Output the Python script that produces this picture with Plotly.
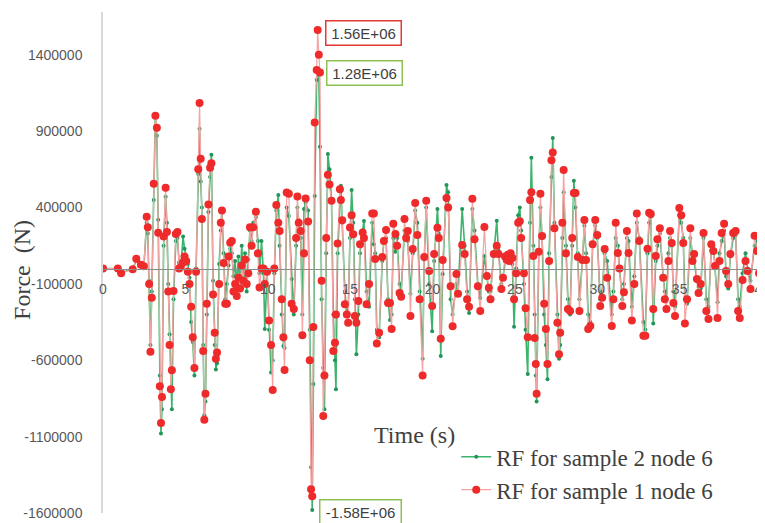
import plotly.graph_objects as go

# Time (s)
time_s = [0.00, 0.90, 1.10, 1.80, 2.02, 2.30, 2.48, 2.65, 2.72, 2.80, 2.88, 2.96, 3.08, 3.18, 3.27, 3.35,
          3.45, 3.52, 3.58, 3.68, 3.80, 3.88, 3.96, 4.04, 4.12, 4.18, 4.28, 4.42, 4.52, 4.62, 4.72, 4.86,
          4.95, 5.05, 5.15, 5.25, 5.35, 5.45, 5.55, 5.65, 5.78, 5.86, 5.93, 6.00, 6.08, 6.15, 6.22, 6.30,
          6.40, 6.50, 6.58, 6.68, 6.78, 6.85, 6.92, 7.05, 7.15, 7.22, 7.32, 7.42, 7.52, 7.62, 7.72, 7.82,
          7.92, 8.02, 8.12, 8.22, 8.32, 8.42, 8.52, 8.62, 8.72, 8.82, 8.92, 9.02, 9.12, 9.28, 9.40, 9.50,
          9.62, 9.74, 9.82, 9.96, 10.08, 10.20, 10.30, 10.40, 10.52, 10.64, 10.72, 10.85, 10.95, 11.02, 11.15, 11.28,
          11.45, 11.58, 11.72, 11.80, 11.88, 12.00, 12.10, 12.20, 12.30, 12.45, 12.55, 12.63, 12.70, 12.77, 12.85, 12.97,
          13.03, 13.10, 13.17, 13.27, 13.37, 13.44, 13.55, 13.65, 13.75, 13.87, 13.98, 14.08, 14.14, 14.24, 14.38, 14.44,
          14.52, 14.68, 14.80, 14.88, 14.99, 15.09, 15.19, 15.29, 15.38, 15.50, 15.60, 15.76, 15.84, 16.00, 16.15, 16.34,
          16.44, 16.52, 16.62, 16.76, 16.95, 17.05, 17.18, 17.30, 17.42, 17.52, 17.62, 17.75, 17.85, 18.00, 18.10, 18.30,
          18.40, 18.50, 18.66, 18.80, 18.95, 19.08, 19.22, 19.40, 19.50, 19.62, 19.80, 19.98, 20.10, 20.30, 20.38, 20.50,
          20.62, 20.85, 20.95, 21.10, 21.22, 21.45, 21.55, 21.80, 21.95, 22.10, 22.22, 22.42, 22.55, 22.75, 22.90, 23.15,
          23.30, 23.42, 23.52, 23.72, 23.90, 24.00, 24.18, 24.28, 24.40, 24.50, 24.58, 24.66, 24.74, 24.85, 24.95, 25.08,
          25.20, 25.30, 25.38, 25.55, 25.65, 25.78, 25.92, 26.00, 26.12, 26.20, 26.27, 26.32, 26.45, 26.55, 26.65, 26.78,
          26.88, 26.98, 27.08, 27.22, 27.30, 27.40, 27.58, 27.68, 27.75, 27.88, 27.96, 28.10, 28.22, 28.35, 28.48, 28.58,
          28.68, 28.82, 28.92, 29.10, 29.22, 29.32, 29.45, 29.58, 29.72, 29.88, 30.00, 30.18, 30.30, 30.45, 30.60, 30.88,
          30.98, 31.12, 31.25, 31.35, 31.52, 31.62, 31.80, 31.90, 32.10, 32.25, 32.40, 32.55, 32.80, 32.92, 33.05, 33.15,
          33.25, 33.40, 33.55, 33.65, 33.80, 34.00, 34.10, 34.20, 34.32, 34.42, 34.52, 34.62, 34.72, 34.98, 35.10, 35.22,
          35.32, 35.45, 35.65, 35.78, 35.88, 36.05, 36.15, 36.28, 36.45, 36.62, 36.75, 36.92, 37.05, 37.15, 37.30, 37.42,
          37.55, 37.70, 37.82, 37.95, 38.08, 38.25, 38.40, 38.55, 38.65, 38.82, 39.00, 39.12, 39.30, 39.55, 39.70, 39.82,
          39.95]

# RF for sample 1 node 6 (N) - red
rf_sample1 = [0, 0, -30000, -5000, 65000, 25000, 15000, 340000, 270000, -100000, -545000, -190000, 555000, 1000000, 923000, 234000,
              -770000, -1010000, -840000, 210000, 529000, 240000, -150000, -500000, -790000, -665000, -146000, 227000, 240000, 0, 10000, 40000,
              80000, 50000, -20000, -100000, -250000, -450000, -650000, -20000, 650000, 1085000, 720000, 325000, -540000, -990000, -820000, -230000,
              420000, 660000, 690000, -170000, -420000, -590000, -550000, -100000, 300000, 380000, 37000, -230000, -230000, 80000, 170000, 180000,
              -150000, -100000, -180000, -60000, -130000, 20000, -80000, 60000, -100000, -30000, 270000, 150000, 270000, 373000, 100000, -124000,
              0, 0, -100000, -20000, -340000, -500000, -795000, 0, 417000, 300000, 247000, -200000, -450000, -664000, 498000, 490000,
              -230000, -264000, 200000, 472000, 300000, 247000, -436000, 100000, 459000, 308000, -600000, -1445000, -1490000, -382000, 957000, 1300000,
              1562000, 1400000, 1284000, -80000, -965000, -700000, 200000, 614000, 550000, 444000, -540000, -485000, -300000, 164000, 520000, 450000,
              317000, -233000, -300000, -354000, 269000, 350000, 225000, -310000, -354000, -212000, 160000, 236000, 200000, -233000, -100000, 360000,
              360000, 63000, -490000, -420000, 76000, 180000, 252000, -225000, -225000, -395000, 293000, 227000, 150000, -160000, -185000, 325000,
              200000, 247000, -310000, 129000, 430000, 220000, -200000, -700000, 76000, 444000, -15000, -245000, 96000, 267000, 200000, -460000,
              57000, 463000, 400000, -115000, -377000, -35000, -165000, 155000, 96000, -200000, -250000, 457000, 193000, -115000, -278000, 273000,
              -48000, -126000, -200000, 96000, 150000, 96000, -133000, -60000, 80000, 60000, 90000, 50000, 100000, 70000, -200000, -30000,
              300000, 310000, 200000, -30000, -260000, -450000, 450000, 500000, 83000, -455000, -625000, -820000, 110000, 490000, 213000, -230000,
              -395000, -625000, 50000, 710000, 760000, 265000, -355000, -560000, -420000, 300000, 645000, 100000, -265000, -278000, 200000, 495000,
              495000, 76000, -278000, 57000, 318000, 57000, -395000, -375000, 160000, 318000, 220000, -245000, -190000, 129000, -60000, -375000,
              -200000, 300000, 103000, 0, -245000, -155000, 247000, 103000, -340000, -100000, 360000, 180000, -440000, -440000, 130000, 365000,
              357000, -265000, 83000, 193000, 265000, -60000, -200000, -265000, 50000, 247000, 168000, -225000, -310000, 397000, 350000, 168000,
              -360000, -200000, 265000, 50000, 96000, -68000, -160000, -100000, 233000, -278000, -330000, 160000, 115000, 17000, -323000, 50000,
              233000, 293000, -15000, -100000, 96000, 233000, 247000, -278000, -323000, -75000, 50000, -15000, -133000, 215000, 115000, -30000,
              -215000]

# RF for sample 2 node 6 (N) - green
rf_sample2 = [0, 0, -25000, -5000, 55000, 20000, 10000, 300000, 230000, -80000, -500000, -150000, 450000, 1010000, 870000, 320000,
              -700000, -1080000, -920000, 150000, 470000, 300000, -100000, -430000, -650000, -920000, -200000, 180000, 200000, 40000, 0, 210000,
              130000, 70000, 30000, -60000, -350000, -480000, -700000, 0, 620000, 915000, 570000, 400000, -500000, -960000, -870000, -300000,
              370000, 600000, 745000, -80000, -500000, -660000, -620000, 30000, 250000, 390000, 100000, -200000, -100000, 20000, 130000, 100000,
              -50000, 50000, -120000, 80000, -100000, 150000, -50000, 100000, -150000, 60000, 250000, 180000, 300000, 334000, 180000, -30000,
              180000, -30000, -395000, -30000, -400000, -680000, -600000, -30000, 380000, 482000, 150000, -300000, -506000, -520000, 400000, 345000,
              -68000, -300000, 150000, 400000, 317000, 200000, -300000, 390000, 430000, 380000, -400000, -1300000, -1580000, -755000, 476000, 1234000,
              1300000, 1280000, 797000, -200000, -650000, -920000, 100000, 750000, 650000, 450000, -300000, -600000, -790000, 100000, 450000, 542000,
              300000, -150000, -280000, -300000, 200000, 514000, 300000, -200000, -560000, -300000, 100000, 250000, 312000, -150000, -250000, 300000,
              160000, 100000, -400000, -450000, 50000, 187000, 200000, -200000, -336000, -300000, 200000, 110000, 200000, -100000, -150000, 250000,
              200000, 180000, -165000, 100000, 380000, 300000, -150000, -590000, 60000, 400000, -100000, -410000, 50000, 390000, 228000, -572000,
              -35000, 548000, 500000, -200000, -300000, -100000, -150000, 390000, 150000, -150000, -290000, 390000, 250000, -100000, -192000, 83000,
              -50000, -150000, -150000, 100000, 313000, 120000, -100000, -50000, 50000, 100000, 40000, 60000, 80000, 30000, -380000, 0,
              350000, 400000, 250000, -100000, -400000, -690000, 300000, 725000, 150000, -300000, -700000, -870000, 100000, 400000, 200000, -300000,
              -500000, -725000, 100000, 600000, 855000, 300000, -300000, -590000, -500000, 200000, 500000, 150000, -200000, -300000, 150000, 575000,
              400000, 100000, -200000, 50000, 280000, 100000, -300000, -350000, 150000, 280000, 200000, -200000, -150000, 100000, 50000, -300000,
              -150000, 200000, 150000, 0, -200000, -100000, 200000, 180000, -250000, -50000, 300000, 200000, -350000, -400000, 100000, 300000,
              340000, -360000, 50000, 150000, 230000, -50000, -150000, -200000, 100000, 200000, 150000, -150000, -250000, 350000, 300000, 200000,
              -200000, -230000, 200000, 100000, 50000, -80000, -120000, -130000, 200000, -200000, -250000, 120000, 150000, 0, -220000, 100000,
              180000, 250000, -50000, -130000, 80000, 200000, 220000, -200000, -250000, -30000, 100000, 0, -80000, 150000, 180000, -50000,
              -150000]

y_ticks = [-1600000, -1100000, -600000, -100000, 400000, 900000, 1400000]
y_tick_labels = ["-1600000", "-1100000", "-600000", "-100000", "400000", "900000", "1400000"]
x_ticks = [0, 5, 10, 15, 20, 25, 30, 35, 40]
y_min, y_max = -1600000, 1680000

fig = go.Figure()
fig.add_trace(go.Scatter(
    x=time_s, y=rf_sample2, mode="lines+markers", name="RF for sample 2 node 6",
    line=dict(color="#3DB46D", width=1.6),
    marker=dict(color="#23955A", size=4),
))
fig.add_trace(go.Scatter(
    x=time_s, y=rf_sample1, mode="lines+markers", name="RF for sample 1 node 6",
    line=dict(color="#F5A3A3", width=1.2),
    marker=dict(color="#EE2A2A", size=8),
))

tick_font = dict(family="Liberation Sans, Arial, sans-serif", size=14, color="#595959")
serif = "Liberation Serif, Times New Roman, serif"
box_font = dict(family="Liberation Sans, Arial", size=15, color="#404040")

fig.update_layout(
    width=765, height=523,
    margin=dict(l=95, r=11, t=4, b=18, autoexpand=False),
    paper_bgcolor="white", plot_bgcolor="white",
    showlegend=True,
    legend=dict(x=0.536, y=0.155, xanchor="left", yanchor="top",
                bgcolor="rgba(0,0,0,0)", font=dict(family=serif, size=23, color="#404040"),
                tracegroupgap=0, itemwidth=30),
    xaxis=dict(range=[0, 40], tickvals=x_ticks, showgrid=False, zeroline=False,
               showline=True, linecolor="#8C8C8C", linewidth=1, automargin=False,
               anchor="free", position=(0 - y_min) / (y_max - y_min),
               ticks="outside", ticklen=8, tickcolor="rgba(0,0,0,0)",
               tickfont=tick_font),
    yaxis=dict(range=[y_min, y_max], tickvals=y_ticks, ticktext=y_tick_labels, showgrid=False,
               zeroline=False, showline=True, linecolor="#D9D9D9", linewidth=1.5, automargin=False,
               ticks="outside", ticklen=16, tickcolor="rgba(0,0,0,0)",
               tickfont=tick_font),
    annotations=[
        dict(text="Force  (N)", xref="paper", yref="paper", x=-0.123, y=0.485,
             xanchor="center", yanchor="middle",
             textangle=-90, showarrow=False, font=dict(family=serif, size=24, color="#404040")),
        dict(text="Time (s)", xref="paper", yref="paper", x=0.472, y=0.156,
             xanchor="center", yanchor="middle",
             showarrow=False, font=dict(family=serif, size=24, color="#404040")),
        dict(text="1.56E+06", xref="paper", yref="paper", x=0.395, y=0.958,
             xanchor="center", yanchor="middle", showarrow=False, font=box_font,
             width=68, bordercolor="#E53935", borderwidth=1.5, borderpad=3, bgcolor="white"),
        dict(text="1.28E+06", xref="paper", yref="paper", x=0.397, y=0.878,
             xanchor="center", yanchor="middle", showarrow=False, font=box_font,
             width=68, bordercolor="#8CC152", borderwidth=1.5, borderpad=3, bgcolor="white"),
        dict(text="-1.58E+06", xref="paper", yref="paper", x=0.390, y=0.002,
             xanchor="center", yanchor="middle", showarrow=False, font=box_font,
             width=74, bordercolor="#8CC152", borderwidth=1.5, borderpad=3, bgcolor="white"),
    ],
)

fig.write_html("out.html")
